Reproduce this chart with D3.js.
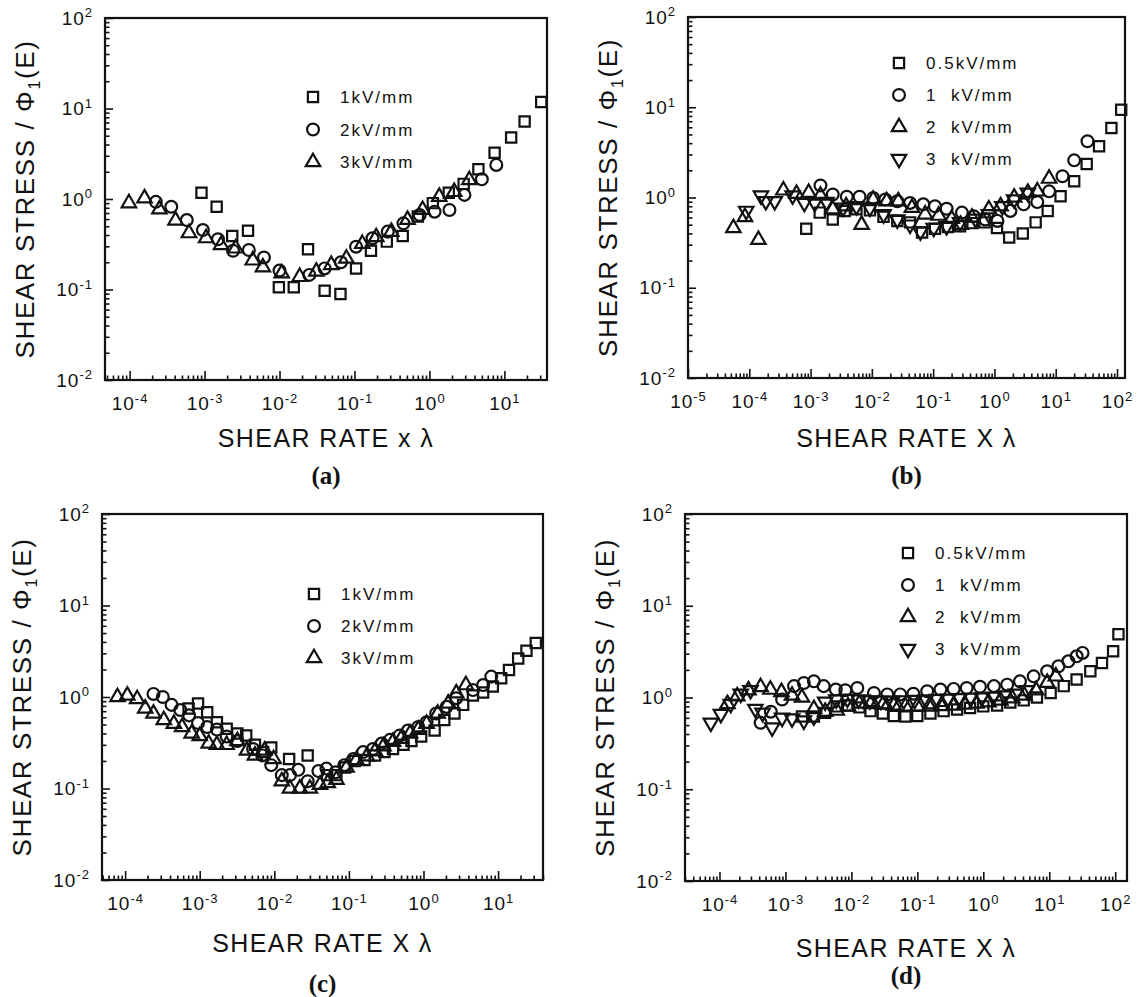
<!DOCTYPE html>
<html>
<head>
<meta charset="utf-8">
<script src="https://cdn.jsdelivr.net/npm/d3@7"></script>
<style>
body { margin: 0; background: #fff; }
svg text { font-family: "Liberation Sans", Arial, sans-serif; fill: #111; }
</style>
</head>
<body>
<div id="chart"></div>
<script>
// [shear rate x lambda, shear stress / phi1(E)]
const a1kV = [[9.1e-4,1.17],[1.45e-3,0.82],[2.34e-3,0.39],[3.8e-3,0.446],[9.8e-3,0.106],[1.55e-2,0.106],[2.4e-2,0.278],[4.0e-2,0.097],[6.5e-2,0.089],[0.105,0.171],[0.166,0.268],[0.27,0.338],[0.44,0.39],[0.70,0.64],[1.11,0.90],[1.81,1.17],[2.86,1.47],[4.5,2.13],[7.4,3.25],[12.3,4.77],[18.6,7.2],[31,11.8]];
const a2kV = [[2.24e-4,0.93],[3.6e-4,0.82],[5.8e-4,0.585],[9.5e-4,0.454],[1.51e-3,0.359],[2.4e-3,0.268],[3.9e-3,0.273],[6.2e-3,0.226],[1.0e-2,0.162],[2.5e-2,0.145],[4.0e-2,0.171],[6.6e-2,0.20],[0.105,0.297],[0.174,0.368],[0.278,0.436],[0.45,0.538],[0.74,0.665],[1.17,0.724],[1.85,0.756],[2.93,1.11],[5.0,1.65],[7.8,2.38]];
const a3kV = [[9.8e-5,0.90],[1.58e-4,1.02],[2.5e-4,0.77],[4.1e-4,0.58],[6.2e-4,0.42],[1.05e-3,0.37],[1.66e-3,0.31],[2.6e-3,0.285],[4.4e-3,0.21],[6.0e-3,0.176],[1.07e-2,0.151],[1.86e-2,0.138],[3.1e-2,0.158],[4.9e-2,0.187],[7.8e-2,0.22],[0.127,0.32],[0.195,0.38],[0.31,0.435],[0.51,0.59],[0.81,0.76],[1.35,1.06],[2.14,1.2],[3.4,1.62]];

const b05kV = [[8.5e-4,0.45],[1.41e-3,0.68],[2.3e-3,0.57],[3.6e-3,0.71],[5.6e-3,0.74],[9.3e-3,0.72],[1.55e-2,0.61],[2.6e-2,0.55],[4.2e-2,0.53],[6.6e-2,0.41],[0.107,0.45],[0.174,0.47],[0.275,0.48],[0.44,0.52],[0.69,0.53],[1.10,0.46],[1.74,0.36],[2.9,0.40],[4.7,0.53],[7.4,0.71],[12.0,1.03],[20,1.51],[32,2.35],[51,3.7],[81,5.9],[117,9.4]];
const b1kV = [[1.45e-3,1.36],[2.3e-3,1.08],[3.9e-3,1.02],[6.3e-3,1.02],[1.05e-2,0.99],[1.66e-2,0.95],[2.6e-2,0.91],[4.2e-2,0.87],[6.9e-2,0.84],[0.107,0.80],[0.166,0.75],[0.295,0.68],[0.46,0.62],[0.71,0.57],[1.12,0.55],[1.82,0.71],[3.0,0.84],[5.0,0.89],[7.8,1.17],[12.9,1.72],[20,2.58],[33,4.2]];
const b2kV = [[5.5e-5,0.46],[8.5e-5,0.61],[1.41e-4,0.34],[3.6e-4,1.20],[5.9e-4,1.10],[9.3e-4,1.13],[1.45e-3,1.05],[2.3e-3,0.74],[3.8e-3,0.80],[6.8e-3,0.50],[1.05e-2,0.95],[1.74e-2,0.91],[2.7e-2,0.91],[4.5e-2,0.77],[7.4e-2,0.65],[0.123,0.63],[0.20,0.58],[0.28,0.50],[0.43,0.60],[0.81,0.74],[1.26,0.80],[2.1,1.0],[3.5,1.13],[5.0,1.17],[7.8,1.62]];
const b3kV = [[8.9e-5,0.71],[1.55e-4,1.05],[1.86e-4,0.91],[2.6e-4,0.91],[5.1e-4,1.05],[7.9e-4,0.87],[1.17e-3,0.87],[1.82e-3,0.89],[3.4e-3,0.77],[5.6e-3,0.80],[9.3e-3,0.77],[1.55e-2,0.65],[2.6e-2,0.57],[4.2e-2,0.50],[6.2e-2,0.42],[0.102,0.46],[0.166,0.48],[0.275,0.53],[0.49,0.58],[0.81,0.65],[1.35,0.80],[2.1,0.95],[3.5,1.13]];

const c1kV = [[7.1e-4,0.75],[9.5e-4,0.85],[1.26e-3,0.68],[1.7e-3,0.53],[2.3e-3,0.45],[3.2e-3,0.40],[4.2e-3,0.38],[5.5e-3,0.30],[7.1e-3,0.25],[9.1e-3,0.28],[1.58e-2,0.21],[2.8e-2,0.23],[5.1e-2,0.14],[6.8e-2,0.14],[8.9e-2,0.17],[0.12,0.20],[0.162,0.205],[0.224,0.23],[0.30,0.25],[0.39,0.27],[0.54,0.30],[0.69,0.33],[0.93,0.37],[1.41,0.43],[1.9,0.56],[2.6,0.66],[3.4,0.82],[4.6,1.04],[6.3,1.12],[8.5,1.30],[11,1.6],[14,1.97],[18.6,2.64],[24,3.2],[32,3.9]];
const c2kV = [[2.4e-4,1.08],[3.2e-4,1.0],[4.2e-4,0.82],[5.5e-4,0.72],[7.2e-4,0.63],[9.5e-4,0.52],[1.26e-3,0.47],[1.7e-3,0.44],[2.3e-3,0.37],[3.2e-3,0.33],[5.2e-3,0.27],[6.9e-3,0.23],[9.1e-3,0.18],[1.26e-2,0.14],[1.62e-2,0.14],[2.1e-2,0.16],[2.8e-2,0.12],[3.9e-2,0.155],[5.0e-2,0.165],[6.6e-2,0.15],[8.7e-2,0.18],[0.115,0.21],[0.155,0.25],[0.21,0.27],[0.275,0.31],[0.355,0.34],[0.48,0.38],[0.62,0.43],[0.85,0.47],[1.10,0.53],[1.48,0.66],[2.04,0.78],[2.75,0.97],[4.6,1.19],[6.3,1.35],[8.1,1.67]];
const c3kV = [[7.9e-5,1.0],[1.07e-4,1.04],[1.45e-4,0.95],[1.86e-4,0.75],[2.4e-4,0.66],[3.3e-4,0.56],[4.5e-4,0.51],[5.8e-4,0.47],[7.8e-4,0.40],[1.0e-3,0.375],[1.32e-3,0.31],[1.7e-3,0.30],[2.3e-3,0.30],[3.2e-3,0.33],[4.3e-3,0.26],[5.5e-3,0.23],[7.4e-3,0.26],[9.8e-3,0.21],[1.26e-2,0.12],[1.62e-2,0.10],[2.2e-2,0.10],[3.0e-2,0.10],[4.1e-2,0.11],[5.2e-2,0.115],[6.8e-2,0.125],[9.3e-2,0.17],[0.126,0.205],[0.174,0.225],[0.224,0.255],[0.29,0.29],[0.39,0.325],[0.50,0.35],[0.66,0.40],[0.85,0.44],[1.10,0.51],[1.55,0.66],[2.14,0.85],[2.75,1.10],[3.7,1.35]];

const d05kV = [[1.78e-3,0.62],[2.7e-3,0.62],[4.0e-3,0.68],[6.0e-3,0.80],[8.9e-3,0.82],[1.32e-2,0.78],[1.95e-2,0.71],[3.0e-2,0.67],[4.4e-2,0.63],[6.6e-2,0.62],[0.1,0.63],[0.158,0.67],[0.25,0.71],[0.40,0.74],[0.63,0.77],[1.0,0.80],[1.62,0.82],[2.57,0.88],[4.1,0.93],[6.5,1.0],[10.5,1.12],[16.6,1.33],[26,1.57],[42,1.93],[63,2.38],[93,3.2],[112,4.9]];
const d1kV = [[4.2e-4,0.53],[6.0e-4,0.70],[8.9e-4,0.95],[1.35e-3,1.33],[1.9e-3,1.44],[2.7e-3,1.50],[3.8e-3,1.33],[5.8e-3,1.22],[8.1e-3,1.20],[1.23e-2,1.27],[2.2e-2,1.12],[3.5e-2,1.08],[5.5e-2,1.08],[8.7e-2,1.10],[0.141,1.17],[0.224,1.22],[0.355,1.24],[0.56,1.27],[0.89,1.31],[1.45,1.33],[2.3,1.38],[3.6,1.50],[5.8,1.70],[9.3,1.93],[13.8,2.19],[19.5,2.48],[26,2.81],[32,3.06]];
const d2kV = [[1.32e-4,0.85],[1.86e-4,1.03],[2.75e-4,1.2],[4.2e-4,1.3],[5.9e-4,1.22],[8.7e-4,1.15],[1.26e-3,1.05],[1.78e-3,1.0],[2.7e-3,0.75],[4.0e-3,0.70],[6.0e-3,0.72],[8.9e-3,0.80],[1.32e-2,0.86],[1.95e-2,0.85],[3.0e-2,0.84],[4.4e-2,0.82],[6.6e-2,0.80],[0.1,0.80],[0.151,0.80],[0.23,0.81],[0.35,0.82],[0.52,0.84],[0.79,0.86],[1.2,0.89],[1.82,0.93],[2.75,0.98],[4.2,1.05],[6.3,1.2],[9.3,1.45],[12.6,1.7]];
const d3kV = [[7.4e-5,0.53],[1.05e-4,0.66],[1.48e-4,0.85],[2.1e-4,1.1],[2.95e-4,1.2],[3.5e-4,0.75],[4.5e-4,0.68],[6.3e-4,0.47],[8.9e-4,0.60],[1.26e-3,0.59],[1.9e-3,0.56],[2.7e-3,0.62],[4.0e-3,0.90],[5.9e-3,0.95],[8.7e-3,0.97],[1.29e-2,0.95],[1.9e-2,0.93],[2.8e-2,0.92],[4.2e-2,0.92],[6.2e-2,0.93],[9.1e-2,0.94],[0.135,0.95],[0.20,0.96],[0.295,0.97],[0.44,0.98],[0.65,0.99],[0.95,1.0],[1.41,1.02],[2.1,1.05],[3.1,1.1],[4.6,1.2]];

const legendAC = ["1kV/mm", "2kV/mm", "3kV/mm"];
const legendBD = ["0.5kV/mm", "1  kV/mm", "2  kV/mm", "3  kV/mm"];
const stressDomain = [1e-2, 1e2];

const width = 1138;
const height = 997;

const svg = d3.select("#chart")
    .append("svg")
    .attr("width", width)
    .attr("height", height);

const symbols = {
    square: d3.symbol().type(d3.symbolSquare).size(105)(),
    circle: d3.symbol().type(d3.symbolCircle).size(110)(),
    up: d3.symbol().type(d3.symbolTriangle).size(90)(),
    down: d3.symbol().type(d3.symbolTriangle).size(90)()
};

const panels = [
    { left: 105, right: 547, top: 18, bottom: 380, xDomain: [4.7e-5, 37],
      xTitle: "SHEAR RATE x \u03bb", label: "(a)", titleX: 34, labelY: 484, xTitleY: 447,
      legend: { x: 313, y: 97, gap: 32.5, texts: legendAC, shapes: ["square", "circle", "up"] },
      series: [[a1kV, "square"], [a2kV, "circle"], [a3kV, "up"]] },
    { left: 688, right: 1125, top: 17, bottom: 378, xDomain: [1e-5, 135],
      xTitle: "SHEAR RATE X \u03bb", label: "(b)", titleX: 617, labelY: 484, xTitleY: 447,
      legend: { x: 899, y: 63, gap: 32, texts: legendBD, shapes: ["square", "circle", "up", "down"] },
      series: [[b05kV, "square"], [b1kV, "circle"], [b2kV, "up"], [b3kV, "down"]] },
    { left: 102, right: 543, top: 514, bottom: 880, xDomain: [4.9e-5, 40],
      xTitle: "SHEAR RATE X \u03bb", label: "(c)", titleX: 31, labelY: 992, xTitleY: 952,
      legend: { x: 314, y: 594, gap: 32, texts: legendAC, shapes: ["square", "circle", "up"] },
      series: [[c1kV, "square"], [c2kV, "circle"], [c3kV, "up"]] },
    { left: 685, right: 1127, top: 514, bottom: 881, xDomain: [3.0e-5, 151],
      xTitle: "SHEAR RATE X \u03bb", label: "(d)", titleX: 614, labelY: 984, xTitleY: 957,
      legend: { x: 908, y: 553, gap: 32, texts: legendBD, shapes: ["square", "circle", "up", "down"] },
      series: [[d05kV, "square"], [d1kV, "circle"], [d2kV, "up"], [d3kV, "down"]] }
];

const isMajor = d => Math.abs(Math.log10(d) - Math.round(Math.log10(d))) < 1e-9;

function powerLabel(sel) {
    sel.each(function(d) {
        const t = d3.select(this);
        t.text(null)
            .attr("font-size", 19)
            .attr("font-family", "Liberation Sans, Arial, sans-serif")
            .attr("fill", "#111")
            .style("letter-spacing", "1px");
        t.append("tspan").text("10");
        t.append("tspan").attr("dy", "-0.55em").attr("font-size", 13).text(Math.round(Math.log10(d)));
    });
}

function markerTransform(shape, px, py) {
    return shape === "down" ? `translate(${px},${py}) rotate(180)` : `translate(${px},${py})`;
}

function drawPanel(p) {
    const x = d3.scaleLog().domain(p.xDomain).range([p.left, p.right]);
    const y = d3.scaleLog().domain(stressDomain).range([p.bottom, p.top]);
    const g = svg.append("g");

    const xt = x.ticks();
    const yt = y.ticks();

    // minor ticks
    g.append("g")
        .attr("transform", `translate(0,${p.bottom})`)
        .call(d3.axisBottom(x).tickValues(xt.filter(d => !isMajor(d))).tickSize(-4.5).tickSizeOuter(0).tickFormat(""));
    g.append("g")
        .attr("transform", `translate(${p.left},0)`)
        .call(d3.axisLeft(y).tickValues(yt.filter(d => !isMajor(d))).tickSize(-4.5).tickSizeOuter(0).tickFormat(""));

    // major ticks with labels
    g.append("g")
        .attr("class", "x-axis")
        .attr("transform", `translate(0,${p.bottom})`)
        .call(d3.axisBottom(x).tickValues(xt.filter(isMajor)).tickSize(-9).tickSizeOuter(0).tickPadding(17))
        .selectAll(".tick text").call(powerLabel);
    g.append("g")
        .attr("class", "y-axis")
        .attr("transform", `translate(${p.left},0)`)
        .call(d3.axisLeft(y).tickValues(yt.filter(isMajor)).tickSize(-8).tickSizeOuter(0).tickPadding(12))
        .selectAll(".tick text").call(powerLabel);

    g.selectAll(".domain").remove();
    g.selectAll(".tick line").attr("stroke", "#111").attr("stroke-width", 1.6);

    g.append("rect")
        .attr("x", p.left).attr("y", p.top)
        .attr("width", p.right - p.left).attr("height", p.bottom - p.top)
        .attr("fill", "none").attr("stroke", "#111").attr("stroke-width", 2.2);

    // data
    p.series.forEach(([data, shape]) => {
        g.append("g")
            .selectAll("path")
            .data(data)
            .enter().append("path")
            .attr("d", symbols[shape])
            .attr("transform", d => markerTransform(shape, x(d[0]), y(d[1])))
            .attr("fill", "none")
            .attr("stroke", "#111")
            .attr("stroke-width", 2.2);
    });

    // legend
    const lg = g.append("g");
    p.legend.texts.forEach((txt, i) => {
        const ly = p.legend.y + i * p.legend.gap;
        lg.append("path")
            .attr("d", symbols[p.legend.shapes[i]])
            .attr("transform", markerTransform(p.legend.shapes[i], p.legend.x, ly))
            .attr("fill", "none").attr("stroke", "#111").attr("stroke-width", 2.2);
        lg.append("text")
            .attr("x", p.legend.x + 27)
            .attr("y", ly + 6)
            .attr("font-size", 17)
            .attr("xml:space", "preserve")
            .style("white-space", "pre")
            .style("letter-spacing", "2px")
            .text(txt);
    });

    // axis titles
    const cx = (p.left + p.right) / 2;
    const cy = (p.top + p.bottom) / 2;
    g.append("text")
        .attr("x", cx).attr("y", p.xTitleY)
        .attr("text-anchor", "middle")
        .attr("font-size", 25)
        .style("letter-spacing", "1.4px")
        .text(p.xTitle);

    const yt1 = g.append("text")
        .attr("transform", `translate(${p.titleX},${cy}) rotate(-90)`)
        .attr("text-anchor", "middle")
        .attr("font-size", 26)
        .style("letter-spacing", "1.6px");
    yt1.append("tspan").text("SHEAR STRESS / \u03a6");
    yt1.append("tspan").attr("dy", 6).attr("font-size", 16).text("1");
    yt1.append("tspan").attr("dy", -6).text("(E)");

    g.append("text")
        .attr("x", cx).attr("y", p.labelY)
        .attr("text-anchor", "middle")
        .attr("font-size", 25)
        .attr("font-weight", "bold")
        .style("font-family", "'Liberation Serif', 'Times New Roman', serif")
        .text(p.label);
}

panels.forEach(drawPanel);
</script>
</body>
</html>
